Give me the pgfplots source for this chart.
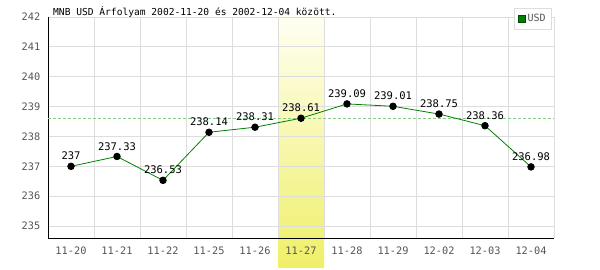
\documentclass[border=0pt]{standalone}
\usepackage{fontspec}
\setmainfont{DejaVu Sans Mono}
\usepackage{pgfplots}
\usepackage{pgfplotstable}
\pgfplotsset{compat=1.18}
\definecolor{lgreen}{HTML}{008000}
\definecolor{dashg}{HTML}{88CC88}
\definecolor{gridc}{HTML}{DDDDDD}
\definecolor{tickc}{HTML}{555555}
\definecolor{hltop}{HTML}{FFFFF2}
\definecolor{hlbot}{HTML}{EFEF68}
\pgfplotstableread{
x y lab
0 237 237
1 237.33 237.33
2 236.53 236.53
3 238.14 238.14
4 238.31 238.31
5 238.61 238.61
6 239.09 239.09
7 239.01 239.01
8 238.75 238.75
9 238.36 238.36
10 236.98 236.98
}\usd
\begin{document}
\begin{tikzpicture}[x=1pt,y=1pt]
\useasboundingbox (0,0) rectangle (600,270);
\fill[top color=hltop, bottom color=hlbot] (278,2) rectangle (324,253);
\node[anchor=west,font=\fontsize{9.6}{10}\selectfont,inner sep=0pt] at (53,258) {MNB USD Árfolyam 2002-11-20 és 2002-12-04 között.};
\begin{axis}[
  at={(48pt,32pt)}, anchor=south west,
  scale only axis, width=506pt, height=221pt,
  xmin=-0.5, xmax=10.5, ymin=234.6, ymax=242,
  axis x line=bottom, axis y line=left,
  axis line style={-, black, line width=0.8pt},
  xtick={0,...,10},
  xticklabels={11-20,11-21,11-22,11-25,11-26,11-27,11-28,11-29,12-02,12-03,12-04},
  minor xtick={0.5,1.5,...,10.5},
  xminorgrids, ymajorgrids,
  minor grid style={gridc, line width=0.8pt},
  major grid style={gridc, line width=0.8pt},
  ytick={235,...,242},
  major tick style={draw=none}, minor tick style={draw=none},
  /pgf/number format/assume math mode=true,
  ticklabel style={font=\fontsize{10.3}{10}\selectfont, text=tickc},
  yticklabel style={xshift=-2pt},
  xticklabel style={yshift=-3pt},
  clip=false,
  legend style={at={(0.996,1.0407)}, anchor=north east, draw=gridc, line width=0.8pt,
    font=\fontsize{10}{10}\selectfont, text=tickc, inner sep=4pt, row sep=0pt},
  legend cell align=left,
]
\addlegendimage{legend image code/.code={\fill[lgreen, draw=black!70!green, line width=0.4pt] (0pt,-3.5pt) rectangle (7pt,3.5pt);}}
\addlegendentry{USD}
\addplot[dashg, dashed, line width=0.8pt, dash pattern=on 3pt off 2pt, forget plot] coordinates {(-0.5,238.61) (10.5,238.61)};
\addplot[lgreen, line width=0.8pt, mark=*, mark size=3.3pt, mark options={black, fill=black},
  nodes near coords, point meta=explicit symbolic,
  every node near coord/.style={font=\fontsize{10.5}{10}\selectfont, black, anchor=south, yshift=2.5pt},
  forget plot] table[x=x, y=y, meta=lab] {\usd};
\end{axis}
\end{tikzpicture}
\end{document}
